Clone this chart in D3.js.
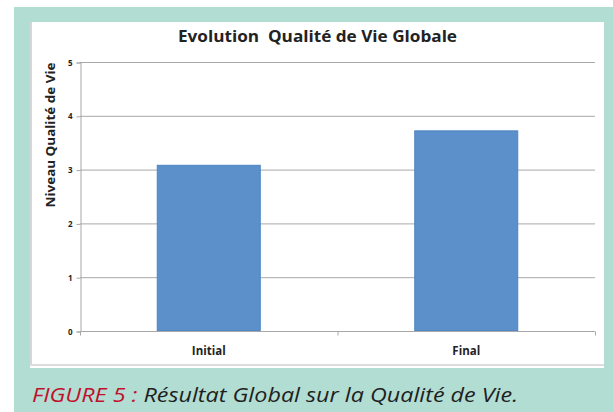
<!DOCTYPE html>
<html>
<head>
<meta charset="utf-8">
<script src="https://cdn.jsdelivr.net/npm/d3@7"></script>
<style>
  body { margin: 0; background: #fff; }
  svg { display: block; }
</style>
</head>
<body>
<div id="chart"></div>
<script>
// data
var categories = ["Initial", "Final"];
var values = [3.08, 3.72];
var yTicks = [0, 1, 2, 3, 4, 5];

var titleText = "Evolution  Qualité de Vie Globale";
var yLabelText = "Niveau Qualité de Vie";
var captionRed = "FIGURE 5 : ";
var captionText = "Résultat Global sur la Qualité de Vie.";

var svgWidth = 613;
var svgHeight = 412;

var margin = { top: 62, right: 18, bottom: 81, left: 80 };
var chartWidth = svgWidth - margin.left - margin.right;
var chartHeight = svgHeight - margin.top - margin.bottom;

var svg = d3.select("#chart")
  .append("svg")
  .attr("width", svgWidth)
  .attr("height", svgHeight);

// teal frame + white panel
svg.append("rect")
  .attr("x", 14).attr("y", 7)
  .attr("width", svgWidth - 14).attr("height", svgHeight - 7)
  .attr("fill", "#b2ddd3");

svg.append("rect")
  .attr("x", 30).attr("y", 22)
  .attr("width", 574).attr("height", 346)
  .attr("fill", "#ffffff");

// faint panel shadow on left and bottom
svg.append("line")
  .attr("x1", 31).attr("x2", 31).attr("y1", 22).attr("y2", 366)
  .attr("stroke", "#d6d6d6").attr("stroke-width", 2);
svg.append("line")
  .attr("x1", 30).attr("x2", 604).attr("y1", 365).attr("y2", 365)
  .attr("stroke", "#dcdcdc").attr("stroke-width", 2);

var chartGroup = svg.append("g")
  .attr("transform", `translate(${margin.left}, ${margin.top})`);

var x = d3.scaleBand()
  .domain(categories)
  .range([0, chartWidth])
  .paddingInner(0.6)
  .paddingOuter(0.3);

var y = d3.scaleLinear()
  .domain([0, 5])
  .range([chartHeight, 0]);

// gridlines
chartGroup.append("g")
  .selectAll("line")
  .data(yTicks)
  .enter()
  .append("line")
  .attr("x1", 0)
  .attr("x2", chartWidth)
  .attr("y1", d => y(d) + 0.5)
  .attr("y2", d => y(d) + 0.5)
  .attr("stroke", "#a8a8a8")
  .attr("stroke-width", 1);

// bars
chartGroup.selectAll("rect.bar")
  .data(values)
  .enter()
  .append("rect")
  .attr("class", "bar")
  .attr("x", (d, i) => x(categories[i]))
  .attr("y", d => y(d))
  .attr("width", x.bandwidth())
  .attr("height", d => chartHeight - y(d))
  .attr("fill", "#5b90cb")
  .attr("stroke", "#4d82c0")
  .attr("stroke-width", 1);

// y axis
var yAxis = d3.axisLeft(y)
  .tickValues(yTicks)
  .tickFormat(d3.format("d"))
  .tickSize(4)
  .tickPadding(4);

var yAxisG = chartGroup.append("g")
  .attr("transform", "translate(0.5, 0.5)")
  .call(yAxis);
yAxisG.select(".domain").attr("stroke", "#a8a8a8");
yAxisG.selectAll(".tick line").attr("stroke", "#a8a8a8");
yAxisG.selectAll("text")
  .attr("font-family", "'Open Sans', sans-serif")
  .attr("font-size", "8px")
  .attr("font-weight", "bold")
  .attr("fill", "#222");

// x axis: ticks between categories, like the spreadsheet
var xAxisG = chartGroup.append("g")
  .attr("transform", `translate(0, ${chartHeight + 0.5})`);
xAxisG.append("line")
  .attr("x1", 0).attr("x2", chartWidth)
  .attr("stroke", "#a8a8a8");
xAxisG.selectAll("line.tk")
  .data([0, x.step() * 1, chartWidth])
  .enter()
  .append("line")
  .attr("class", "tk")
  .attr("x1", d => d + 0.5).attr("x2", d => d + 0.5)
  .attr("y1", 0).attr("y2", 4)
  .attr("stroke", "#a8a8a8");
xAxisG.selectAll("text")
  .data(categories)
  .enter()
  .append("text")
  .attr("x", d => x(d) + x.bandwidth() / 2)
  .attr("y", 23)
  .attr("text-anchor", "middle")
  .attr("font-family", "'Open Sans', sans-serif")
  .attr("font-size", "11.5px")
  .attr("font-weight", "bold")
  .attr("fill", "#222")
  .text(d => d);

// title (keep the double space)
svg.append("text")
  .attr("x", 317.5)
  .attr("y", 42)
  .attr("text-anchor", "middle")
  .style("white-space", "pre")
  .attr("font-family", "'Open Sans', sans-serif")
  .attr("font-size", "16px")
  .attr("font-weight", "bold")
  .attr("fill", "#222")
  .attr("textLength", 279)
  .attr("lengthAdjust", "spacingAndGlyphs")
  .text(titleText);

// y label
svg.append("text")
  .attr("transform", "translate(55, 135) rotate(-90)")
  .attr("text-anchor", "middle")
  .attr("font-family", "'Open Sans', sans-serif")
  .attr("font-size", "11.5px")
  .attr("font-weight", "bold")
  .attr("fill", "#222")
  .attr("textLength", 145)
  .attr("lengthAdjust", "spacingAndGlyphs")
  .text(yLabelText);

// caption
var caption = svg.append("text")
  .attr("x", 32)
  .attr("y", 402)
  .attr("font-family", "'Open Sans', sans-serif")
  .attr("font-size", "20px")
  .attr("font-style", "italic")
  .attr("font-weight", "500")
  .attr("textLength", 486)
  .attr("lengthAdjust", "spacingAndGlyphs");
caption.append("tspan")
  .attr("fill", "#c0102b")
  .text(captionRed);
caption.append("tspan")
  .attr("fill", "#1f1f1f")
  .text(captionText);
</script>
</body>
</html>
